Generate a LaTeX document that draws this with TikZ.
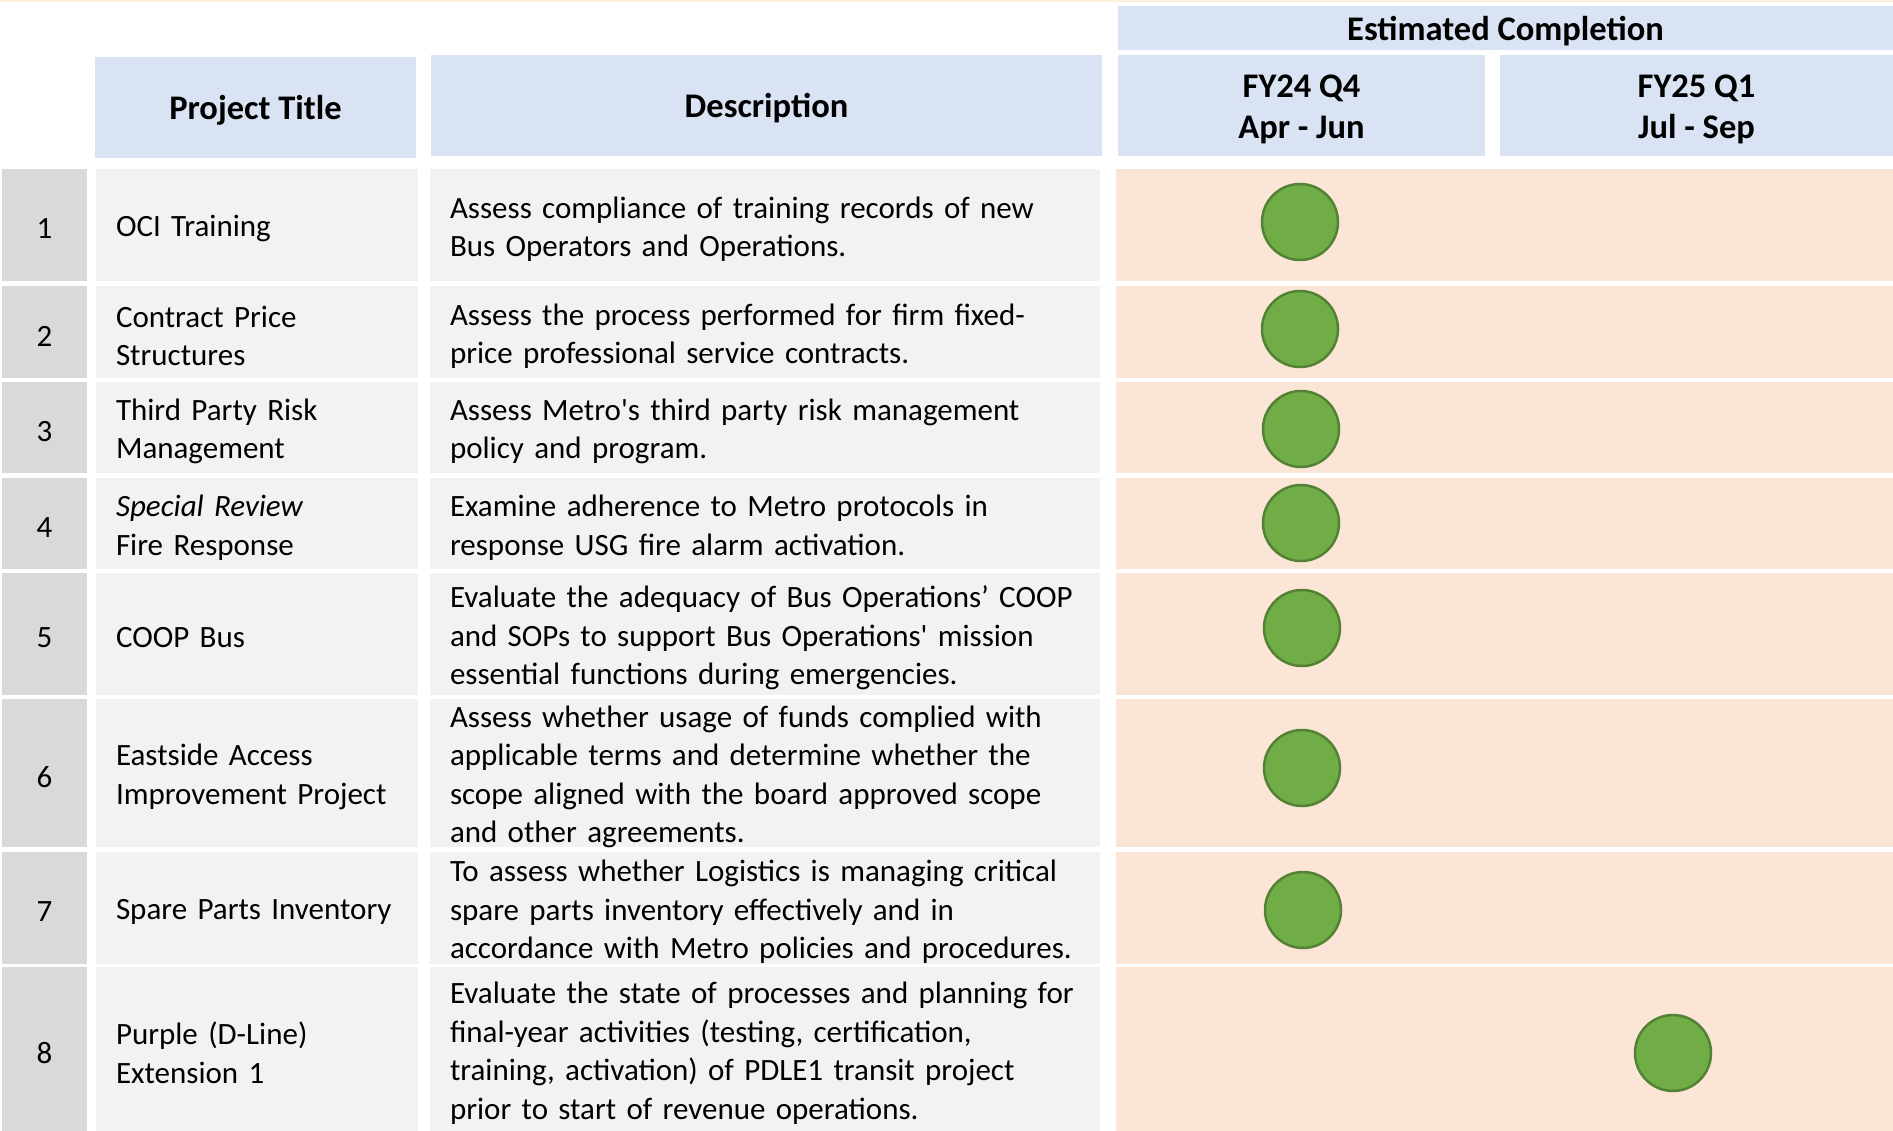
\documentclass[tikz,border=0pt]{standalone}
\usepackage{fontspec}
\setmainfont{Carlito}[Ligatures=TeXOff]
\definecolor{hdrblue}{HTML}{DAE3F3}
\definecolor{numgray}{HTML}{D9D9D9}
\definecolor{cellgray}{HTML}{F2F2F2}
\definecolor{timeorange}{HTML}{FBE5D6}
\definecolor{dotgreen}{HTML}{70AD47}
\definecolor{dotedge}{HTML}{548235}
\definecolor{topline}{HTML}{FDF1DE}
\newcommand\bodyfont{\fontsize{31}{38.5}\selectfont}
\newcommand\tabrow[5]{%
  \pgfmathsetmacro\myrowc{(#2+#3)/2}%
  \pgfmathsetmacro\myrowh{#3-#2}%
  \node[cellbox, fill=numgray, minimum width=85pt, minimum height=\myrowh pt] (numcell#1) at (44.5,\myrowc) {};
  \node[cellbox, fill=cellgray, minimum width=322pt, minimum height=\myrowh pt] (titlecell#1) at (257,\myrowc) {};
  \node[cellbox, fill=cellgray, minimum width=670pt, minimum height=\myrowh pt] (desccell#1) at (765,\myrowc) {};
  \node[cellbox, fill=timeorange, minimum width=777pt, minimum height=\myrowh pt] (time#1) at (1504.5,\myrowc) {};
  \node[numtext] (num#1) at (44.5,\myrowc+4) {#1};
  \node[celltext, text width=282pt] (title#1) at (257,\myrowc+4) {#4};
  \node[celltext, text width=630pt] (desc#1) at (765,\myrowc+4) {#5};
}
\begin{document}
\begin{tikzpicture}[x=1pt,y=-1pt,
  hdr/.style={fill=hdrblue, font=\fontsize{34.5}{41}\selectfont\bfseries, inner sep=0pt, outer sep=0pt, align=center},
  cellbox/.style={inner sep=0pt, outer sep=0pt},
  numtext/.style={font=\bodyfont, inner sep=0pt, outer sep=0pt},
  celltext/.style={font=\bodyfont, inner xsep=20pt, inner ysep=0pt, outer sep=0pt, align=left},
  dot/.style={circle, fill=dotgreen, draw=dotedge, line width=2.5pt, minimum size=76pt, inner sep=0pt}]
\useasboundingbox (0,0) rectangle (1893,1131);
\fill[topline] (0,0) rectangle (1893,2);
% headers
\node[hdr, minimum width=321pt, minimum height=101pt] (hTitle) at (255.5,107.5) {};
\node[hdr, minimum width=671pt, minimum height=101pt] (hDesc) at (766.5,105.5) {};
\node[hdr, minimum width=775pt, minimum height=44pt] (hEst) at (1505.5,28) {};
\node[hdr, minimum width=367pt, minimum height=101pt] (hQ4) at (1301.5,105.5) {};
\node[hdr, minimum width=393pt, minimum height=101pt] (hQ1) at (1696.5,105.5) {};
\node[hdr, fill=none] (tTitle) at (255.5,110.5) {Project Title};
\node[hdr, fill=none] (tDesc) at (766.5,108) {Description};
\node[hdr, fill=none] (tEst) at (1505.5,31) {Estimated Completion};
\node[hdr, fill=none] (tQ4) at (1301.5,109) {FY24 Q4\\Apr - Jun};
\node[hdr, fill=none] (tQ1) at (1696.5,109) {FY25 Q1\\Jul - Sep};
% rows
\tabrow{1}{169}{281}{OCI Training}{Assess compliance of training records of new\\Bus Operators and Operations.}
\tabrow{2}{286}{378}{Contract Price\\Structures}{Assess the process performed for firm fixed-\\price professional service contracts.}
\tabrow{3}{382}{473}{Third Party Risk\\Management}{Assess Metro's third party risk management\\policy and program.}
\tabrow{4}{478}{569}{\textit{Special Review}\\Fire Response}{Examine adherence to Metro protocols in\\response USG fire alarm activation.}
\tabrow{5}{573}{695}{COOP Bus}{Evaluate the adequacy of Bus Operations’ COOP\\and SOPs to support Bus Operations' mission\\essential functions during emergencies.}
\tabrow{6}{699}{847}{Eastside Access\\Improvement Project}{Assess whether usage of funds complied with\\applicable terms and determine whether the\\scope aligned with the board approved scope\\and other agreements.}
\tabrow{7}{852}{964}{Spare Parts Inventory}{To assess whether Logistics is managing critical\\spare parts inventory effectively and in\\accordance with Metro policies and procedures.}
\tabrow{8}{967}{1131}{Purple (D-Line)\\Extension 1}{Evaluate the state of processes and planning for\\final-year activities (testing, certification,\\training, activation) of PDLE1 transit project\\prior to start of revenue operations.}
% completion dots
\node[dot] (dot1) at (1300,222) {};
\node[dot] (dot2) at (1300,329) {};
\node[dot] (dot3) at (1301,429) {};
\node[dot] (dot4) at (1301,523) {};
\node[dot] (dot5) at (1302,628) {};
\node[dot] (dot6) at (1302,768) {};
\node[dot] (dot7) at (1303,910) {};
\node[dot] (dot8) at (1673,1053) {};
\end{tikzpicture}
\end{document}
